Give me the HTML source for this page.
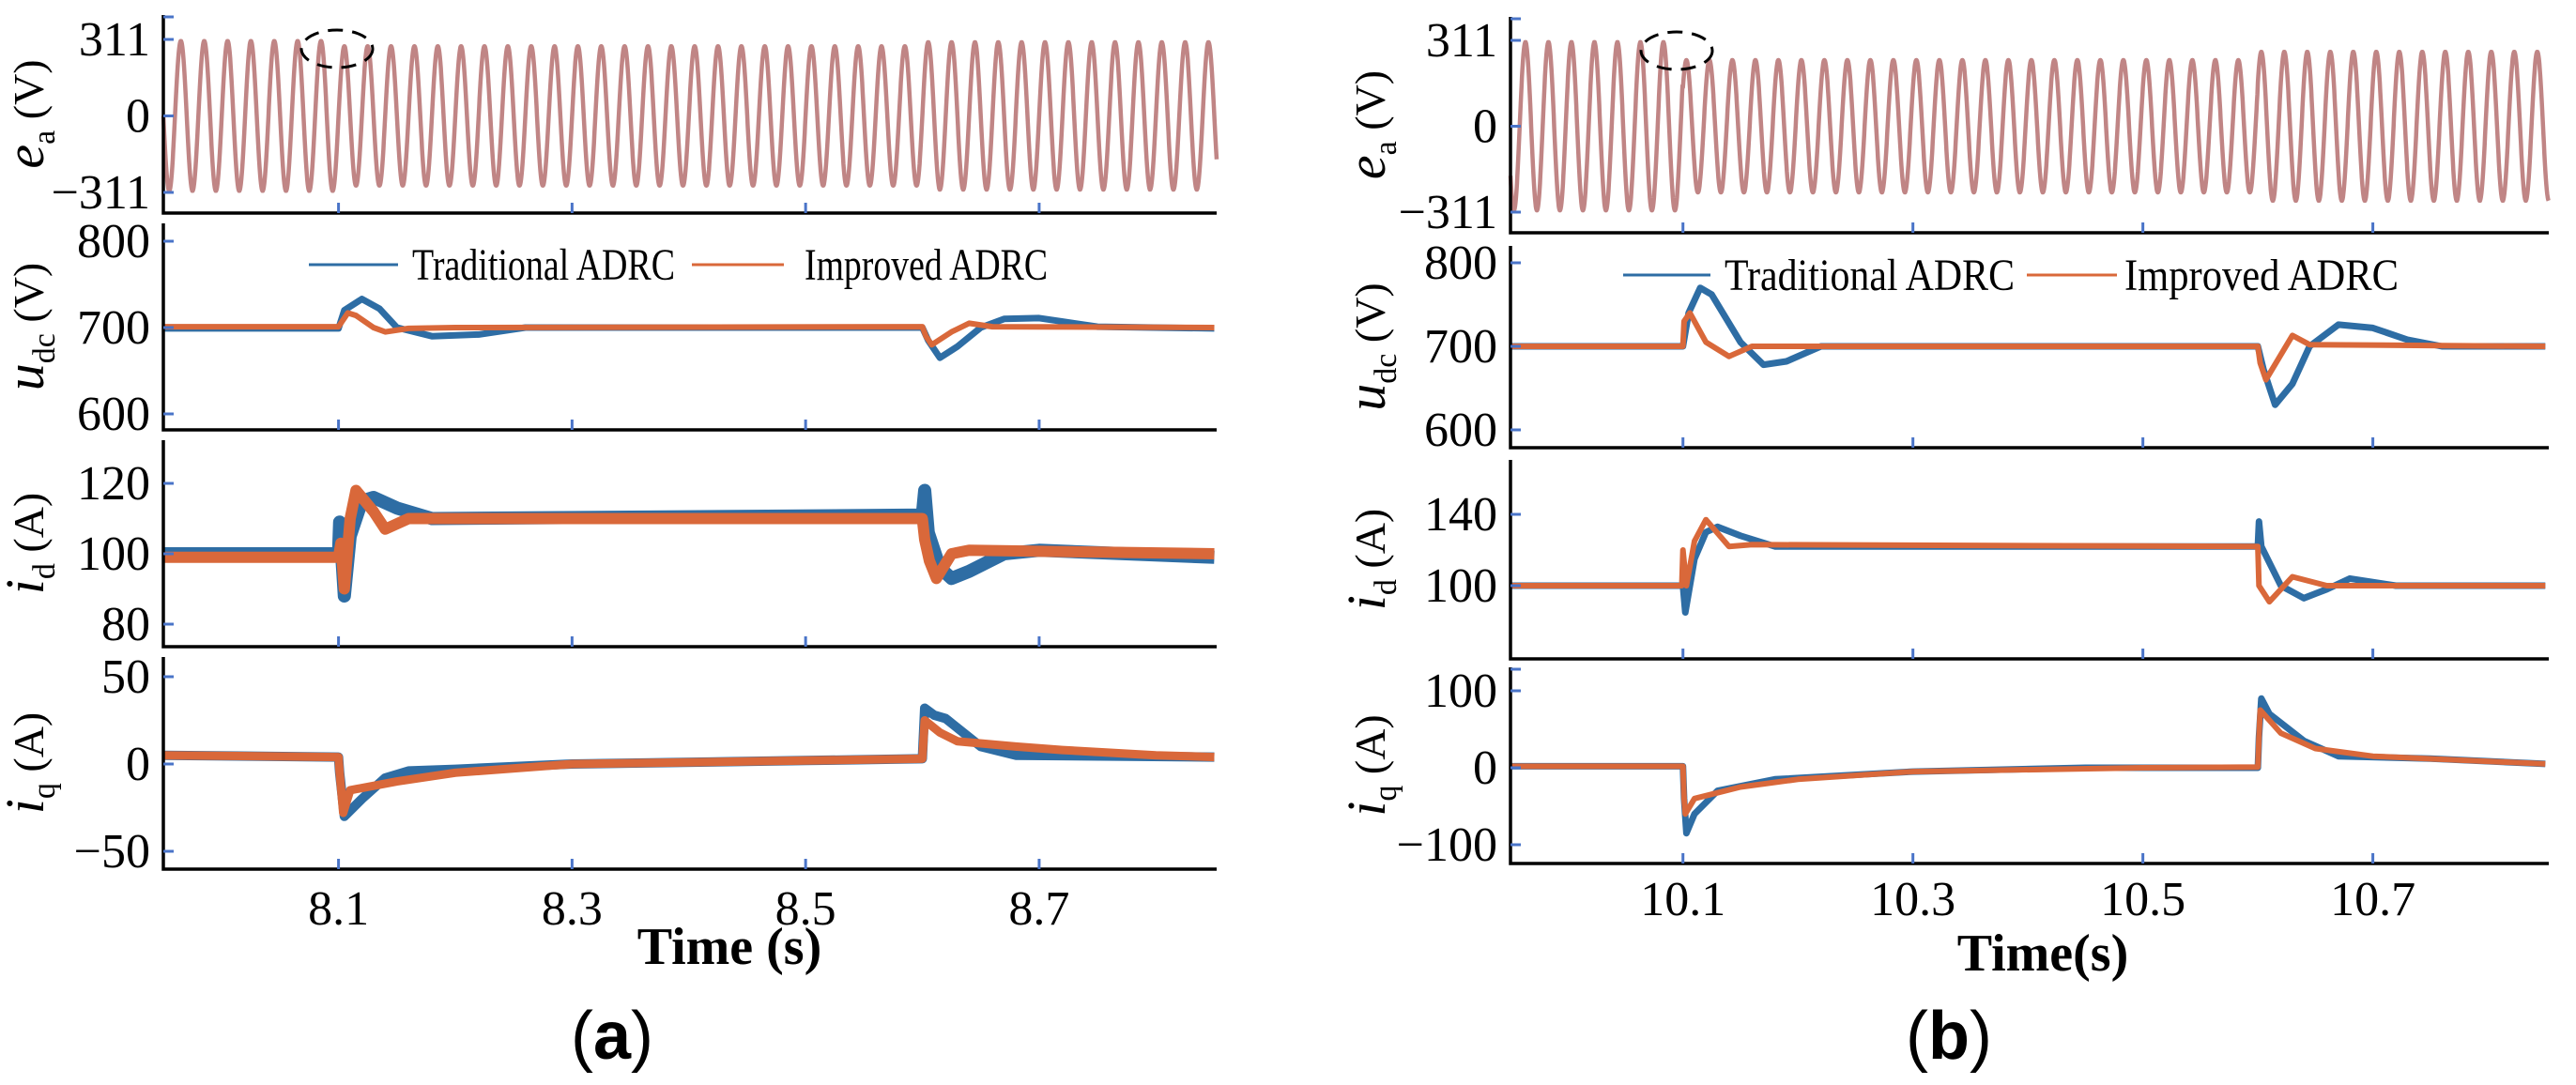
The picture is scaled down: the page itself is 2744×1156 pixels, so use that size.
<!DOCTYPE html>
<html><head><meta charset="utf-8"><style>
html,body{margin:0;padding:0;background:#fff;}
svg{display:block;font-family:"Liberation Serif",serif;}
</style></head><body>
<svg id="fig" width="2744" height="1156" viewBox="0 0 2744 1156" xmlns="http://www.w3.org/2000/svg"></svg>
<script>
// ---------- data ----------
// panel a
const aTimeTicks = [8.1, 8.3, 8.5, 8.7];
const aTimeRange = [7.95, 8.852];
const aSineSegTimes = [7.95, 8.1, 8.6, 8.86];
const aSineAmps = [305, 284, 300];
const aUdcBlueT = [7.95, 8.1, 8.105, 8.12, 8.135, 8.15, 8.18, 8.22, 8.26, 8.6, 8.605, 8.615, 8.63, 8.65, 8.67, 8.7, 8.72, 8.75, 8.85];
const aUdcBlueV = [699, 699, 720, 733, 722, 700, 690, 692, 700, 700, 685, 665, 678, 700, 710, 711, 707, 701, 699];
const aUdcOrT = [7.95, 8.1, 8.108, 8.115, 8.13, 8.14, 8.16, 8.2, 8.6, 8.603, 8.608, 8.625, 8.64, 8.66, 8.85];
const aUdcOrV = [701, 701, 717, 714, 700, 695, 699, 700, 701, 690, 680, 695, 705, 701, 700];
const aIdBlueT = [7.95, 8.1, 8.101, 8.105, 8.11, 8.12, 8.13, 8.15, 8.18, 8.6, 8.602, 8.605, 8.615, 8.625, 8.64, 8.67, 8.7, 8.85];
const aIdBlueV = [100, 100, 109, 88, 105, 115, 116, 113, 110, 111, 118, 106, 96, 93, 95, 100, 101, 99];
const aIdOrT = [7.95, 8.1, 8.102, 8.105, 8.11, 8.115, 8.13, 8.14, 8.16, 8.6, 8.602, 8.606, 8.612, 8.625, 8.64, 8.85];
const aIdOrV = [99, 99, 103, 90, 110, 118, 112, 107, 110, 110, 104, 98, 93, 100, 101, 100];
const aIqBlueT = [7.95, 8.1, 8.101, 8.105, 8.12, 8.14, 8.16, 8.2, 8.3, 8.5, 8.6, 8.602, 8.61, 8.62, 8.65, 8.68, 8.85];
const aIqBlueV = [5, 4, -5, -30, -20, -8, -4, -3, 0, 2, 3, 32, 28, 26, 10, 5, 4];
const aIqOrT = [7.95, 8.1, 8.101, 8.104, 8.11, 8.15, 8.2, 8.3, 8.5, 8.6, 8.602, 8.615, 8.63, 8.68, 8.72, 8.8, 8.85];
const aIqOrV = [5, 4, -5, -28, -15, -10, -5, 0, 2, 3, 25, 18, 13, 10, 8, 5, 4];
// panel b
const bTimeTicks = [10.1, 10.3, 10.5, 10.7];
const bTimeRange = [9.95, 10.853];
const bSineSegTimes = [9.95, 10.1, 10.6, 10.86];
const bSineAmps = [305, 240, 270];
const bUdcBlueT = [9.95, 10.1, 10.105, 10.115, 10.125, 10.15, 10.17, 10.19, 10.22, 10.6, 10.605, 10.615, 10.63, 10.645, 10.67, 10.7, 10.73, 10.76, 10.85];
const bUdcBlueV = [700, 700, 740, 770, 762, 705, 678, 682, 700, 700, 672, 630, 655, 700, 726, 722, 708, 700, 700];
const bUdcOrT = [9.95, 10.1, 10.101, 10.106, 10.12, 10.14, 10.16, 10.6, 10.602, 10.607, 10.63, 10.645, 10.85];
const bUdcOrV = [700, 700, 730, 740, 705, 688, 700, 700, 680, 660, 713, 702, 700];
const bIdBlueT = [9.95, 10.1, 10.102, 10.11, 10.12, 10.13, 10.15, 10.18, 10.6, 10.601, 10.603, 10.62, 10.64, 10.66, 10.68, 10.72, 10.85];
const bIdBlueV = [100, 100, 85, 115, 130, 133, 128, 122, 122, 136, 122, 100, 93, 98, 104, 100, 100];
const bIdOrT = [9.95, 10.099, 10.1, 10.103, 10.11, 10.12, 10.14, 10.16, 10.6, 10.601, 10.61, 10.63, 10.66, 10.85];
const bIdOrV = [100, 100, 120, 100, 125, 137, 122, 123, 122, 100, 91, 105, 100, 100];
const bIqBlueT = [9.95, 10.1, 10.101, 10.103, 10.11, 10.13, 10.18, 10.3, 10.45, 10.6, 10.601, 10.603, 10.61, 10.64, 10.67, 10.75, 10.85];
const bIqBlueV = [2, 2, -40, -85, -60, -30, -15, -5, 0, 0, 40, 90, 70, 35, 15, 12, 5];
const bIqOrT = [9.95, 10.1, 10.101, 10.102, 10.11, 10.15, 10.2, 10.3, 10.5, 10.6, 10.601, 10.602, 10.62, 10.65, 10.7, 10.85];
const bIqOrV = [2, 2, -40, -60, -40, -25, -15, -5, 0, 1, 40, 75, 45, 25, 15, 5];

const BLUE = '#2e6da4', ORANGE = '#d9683a', SINE = '#c08585', TICK = '#4a74c8';
const NS = 'http://www.w3.org/2000/svg';
const svg = document.getElementById('fig');
function mk(tag, attrs, parent) {
  const e = document.createElementNS(NS, tag);
  for (const k in attrs) e.setAttribute(k, attrs[k]);
  (parent || svg).appendChild(e);
  return e;
}

function drawPanel(P) {
  const g = mk('g', {});
  
  
  const xs = t => P.x0 + (t - P.tr[0]) / (P.tr[1] - P.tr[0]) * (P.x1 - P.x0);
  P.subs.forEach((s, i) => {
    const sg = mk('g', {}, g);
    
    
    const ys = v => s.p0 + (v - s.v0) / (s.v1 - s.v0) * (s.p1 - s.p0);
    s.series.forEach(se => {
      let pts = [];
      if (se.sine) {
        for (let t = P.tr[0]; t <= P.tr[1] + 1e-9; t += 0.0004) {
          let k = 0;
          while (k < se.amps.length - 1 && t >= se.segT[k + 1]) k++;
          const v = -se.amps[k] * Math.cos(2 * Math.PI * 50 * (t - se.t0));
          pts.push(xs(t).toFixed(1) + ',' + ys(v).toFixed(1));
        }
      } else {
        for (let j = 0; j < se.t.length; j++) pts.push(xs(se.t[j]).toFixed(1) + ',' + ys(se.v[j]).toFixed(1));
      }
      const pl = mk('polyline', {points: pts.join(' '), fill: 'none', stroke: se.c, 'stroke-width': se.w, 'stroke-linejoin': 'round'}, sg);
      
      
    });
    const ax = mk('path', {d: `M${P.x0},${s.top} L${P.x0},${s.bot} L${P.x1},${s.bot}`, fill: 'none', stroke: '#000', 'stroke-width': 3.5}, sg);
    
    
    s.ticks.forEach((tv, j) => {
      const y = ys(tv);
      const tk = mk('line', {x1: P.x0, x2: P.x0 + 11, y1: y, y2: y, stroke: TICK, 'stroke-width': 3}, sg);
      
      
      const lb = mk('text', {x: P.x0 - 14, y: y + 17, 'text-anchor': 'end', 'font-size': 52, fill: '#000'}, sg);
      lb.textContent = s.labels[j];
      
      
    });
    if (s.topTick) {
      const tk = mk('line', {x1: P.x0, x2: P.x0 + 11, y1: s.top + 2, y2: s.top + 2, stroke: TICK, 'stroke-width': 3}, sg);
      
      
    }
    P.tt.forEach(t => {
      const x = xs(t);
      const tk = mk('line', {x1: x, x2: x, y1: s.bot, y2: s.bot - 11, stroke: TICK, 'stroke-width': 3}, sg);
      
      
    });
    const yl = mk('text', {transform: `translate(${s.lx},${(s.top + s.bot) / 2}) rotate(-90)`, 'text-anchor': 'middle', 'font-size': 46, fill: '#000'}, sg);
    
    
    yl.innerHTML = `<tspan font-style="italic" font-size="58">${s.sym}</tspan><tspan font-size="34" dy="12">${s.sub}</tspan><tspan dy="-12"> ${s.unit}</tspan>`;
  });
  P.tt.forEach(t => {
    const lb = mk('text', {x: xs(t), y: P.tly, 'text-anchor': 'middle', 'font-size': 52}, g);
    lb.textContent = t.toFixed(1);
    
    
  });
  const xt = mk('text', {x: P.tx, y: P.ty, 'text-anchor': 'middle', 'font-size': 56, 'font-weight': 'bold'}, g);
  xt.textContent = P.ttext;
  
  
  const cap = mk('text', {x: P.cx, y: P.cy, 'text-anchor': 'middle', 'font-size': 72, 'font-family': '"Liberation Sans",sans-serif'}, g);
  cap.innerHTML = `(<tspan font-weight="bold">${P.id}</tspan>)`;
  
  
  const el = mk('ellipse', {cx: P.ex, cy: P.ey, rx: 38, ry: 20, fill: 'none', stroke: '#000', 'stroke-width': 3, 'stroke-dasharray': '16 10'}, g);
  
  
  const L = P.leg;
  const lg = mk('g', {}, g);
  
  
  const l1 = mk('line', {x1: L.b1, x2: L.b2, y1: L.y, y2: L.y, stroke: BLUE, 'stroke-width': 3}, lg);
  
  
  const t1 = mk('text', {x: L.bt, y: L.y + 16, 'font-size': 48, textLength: L.bw, lengthAdjust: 'spacingAndGlyphs'}, lg);
  t1.textContent = 'Traditional ADRC';
  
  
  const l2 = mk('line', {x1: L.o1, x2: L.o2, y1: L.y, y2: L.y, stroke: ORANGE, 'stroke-width': 3}, lg);
  
  
  const t2 = mk('text', {x: L.ot, y: L.y + 16, 'font-size': 48, textLength: L.ow, lengthAdjust: 'spacingAndGlyphs'}, lg);
  t2.textContent = 'Improved ADRC';
  
  
}

drawPanel({
  id: 'a', x0: 174, x1: 1296, tr: aTimeRange, tt: aTimeTicks, tly: 985, tx: 777, ty: 1027, ttext: 'Time (s)', cx: 652, cy: 1128,
  ex: 359, ey: 52,
  leg: {y: 282, b1: 329, b2: 424, bt: 439, bw: 280, o1: 737, o2: 835, ot: 857, ow: 259},
  subs: [
    {name: 'ea', top: 16, bot: 227, v0: 311, v1: -311, p0: 42, p1: 205, ticks: [311, 0, -311], labels: ['311', '0', '\u2212311'], topTick: true, lx: 46, sym: 'e', sub: 'a', unit: '(V)',
     series: [{name: 'ea-line', sine: true, segT: aSineSegTimes, amps: aSineAmps, t0: 7.955, c: SINE, w: 4.5}]},
    {name: 'udc', top: 238, bot: 458, v0: 800, v1: 600, p0: 257, p1: 441, ticks: [800, 700, 600], labels: ['800', '700', '600'], lx: 46, sym: 'u', sub: 'dc', unit: '(V)',
     series: [{name: 'udc-traditional', t: aUdcBlueT, v: aUdcBlueV, c: BLUE, w: 7}, {name: 'udc-improved', t: aUdcOrT, v: aUdcOrV, c: ORANGE, w: 6}]},
    {name: 'id', top: 469, bot: 689, v0: 120, v1: 80, p0: 515, p1: 665, ticks: [120, 100, 80], labels: ['120', '100', '80'], lx: 46, sym: 'i', sub: 'd', unit: '(A)',
     series: [{name: 'id-traditional', t: aIdBlueT, v: aIdBlueV, c: BLUE, w: 14}, {name: 'id-improved', t: aIdOrT, v: aIdOrV, c: ORANGE, w: 12}]},
    {name: 'iq', top: 700, bot: 926, v0: 50, v1: -50, p0: 721, p1: 907, ticks: [50, 0, -50], labels: ['50', '0', '\u221250'], lx: 46, sym: 'i', sub: 'q', unit: '(A)',
     series: [{name: 'iq-traditional', t: aIqBlueT, v: aIqBlueV, c: BLUE, w: 10}, {name: 'iq-improved', t: aIqOrT, v: aIqOrV, c: ORANGE, w: 9}]}
  ]
});
drawPanel({
  id: 'b', x0: 1609, x1: 2715, tr: bTimeRange, tt: bTimeTicks, tly: 975, tx: 2176, ty: 1034, ttext: 'Time(s)', cx: 2076, cy: 1128,
  ex: 1786, ey: 54,
  leg: {y: 293, b1: 1729, b2: 1822, bt: 1837, bw: 309, o1: 2159, o2: 2255, ot: 2263, ow: 292},
  subs: [
    {name: 'ea', top: 18, bot: 248, v0: 311, v1: -311, p0: 43, p1: 226, ticks: [311, 0, -311], labels: ['311', '0', '\u2212311'], topTick: true, lx: 1475, sym: 'e', sub: 'a', unit: '(V)',
     series: [{name: 'ea-line', sine: true, segT: bSineSegTimes, amps: bSineAmps, t0: 9.953, c: SINE, w: 4.5}]},
    {name: 'udc', top: 262, bot: 477, v0: 800, v1: 600, p0: 280, p1: 458, ticks: [800, 700, 600], labels: ['800', '700', '600'], lx: 1475, sym: 'u', sub: 'dc', unit: '(V)',
     series: [{name: 'udc-traditional', t: bUdcBlueT, v: bUdcBlueV, c: BLUE, w: 7}, {name: 'udc-improved', t: bUdcOrT, v: bUdcOrV, c: ORANGE, w: 6}]},
    {name: 'id', top: 490, bot: 702, v0: 140, v1: 100, p0: 548, p1: 624, ticks: [140, 100], labels: ['140', '100'], lx: 1475, sym: 'i', sub: 'd', unit: '(A)',
     series: [{name: 'id-traditional', t: bIdBlueT, v: bIdBlueV, c: BLUE, w: 7}, {name: 'id-improved', t: bIdOrT, v: bIdOrV, c: ORANGE, w: 6}]},
    {name: 'iq', top: 711, bot: 920, v0: 100, v1: -100, p0: 736, p1: 900, ticks: [100, 0, -100], labels: ['100', '0', '\u2212100'], topTick: true, lx: 1475, sym: 'i', sub: 'q', unit: '(A)',
     series: [{name: 'iq-traditional', t: bIqBlueT, v: bIqBlueV, c: BLUE, w: 7}, {name: 'iq-improved', t: bIqOrT, v: bIqOrV, c: ORANGE, w: 6}]}
  ]
});
</script>
</body></html>
